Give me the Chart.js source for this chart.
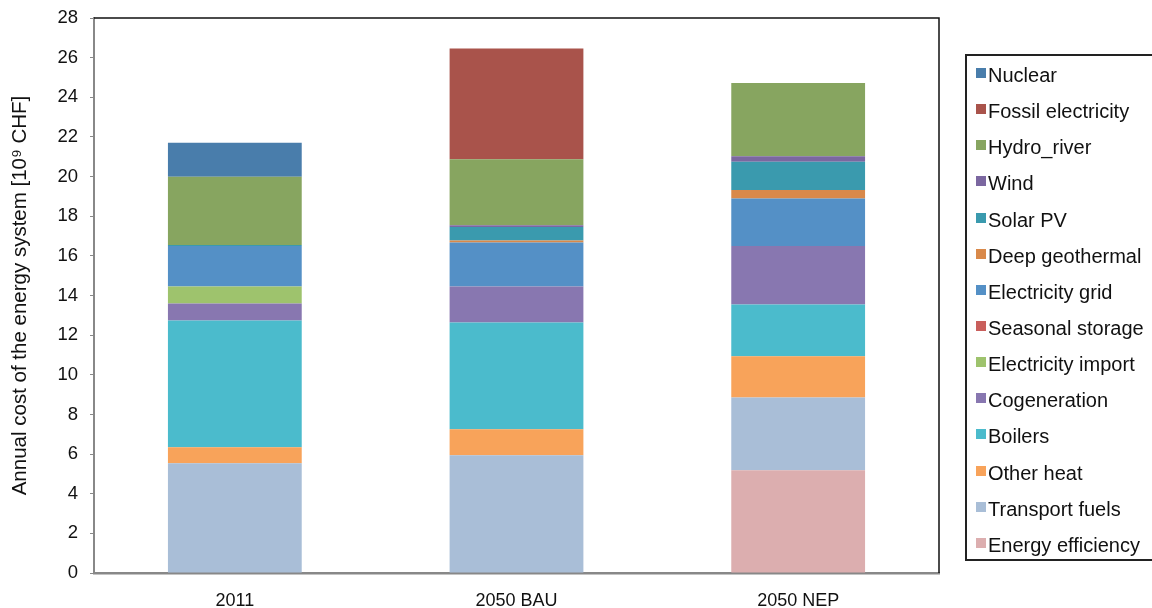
<!DOCTYPE html>
<html>
<head>
  <title>Annual cost of the energy system</title>
  <style>
    html, body {
      margin: 0;
      padding: 0;
      background: #fff;
      font-family: "Liberation Sans", Arial, Helvetica, sans-serif;
    }
    #wrap {
      position: relative;
      width: 1152px;
      height: 608px;
      overflow: hidden;
    }
    #legend {
      position: absolute;
      left: 965px;
      top: 54px;
      width: 210px;
      height: 507px;
      border: 2px solid #222;
      box-sizing: border-box;
      padding-top: 1px;
    }
    .item {
      height: 36.15px;
      line-height: 36.15px;
      font-size: 20px;
      color: #111;
      white-space: nowrap;
      padding-left: 9px;
    }
    .item span.box {
      display: inline-block;
      width: 10px;
      height: 10px;
      margin-right: 2px;
      position: relative;
      top: -4px;
    }
  </style>
</head>
<body>
  <div id="wrap">
    <canvas id="costChart" width="1152" height="608"></canvas>
    <div id="legend"></div>
  </div>

  <script src="https://cdn.jsdelivr.net/npm/chart.js"></script>
  <script>
    // scenarios on the x axis
    const scenarios = ['2011', '2050 BAU', '2050 NEP'];

    // cost per technology, 10^9 CHF, stacked bottom to top
    const energyEfficiency = [0, 0, 5.19];
    const transportFuels = [5.54, 5.94, 3.67];
    const otherHeat = [0.80, 1.31, 2.07];
    const boilers = [6.40, 5.39, 2.62];
    const cogeneration = [0.86, 1.81, 2.95];
    const electricityImport = [0.85, 0, 0];
    const seasonalStorage = [0, 0, 0];
    const electricityGrid = [2.05, 2.22, 2.40];
    const deepGeothermal = [0, 0.10, 0.42];
    const solarPV = [0.05, 0.68, 1.43];
    const wind = [0, 0.09, 0.27];
    const hydroRiver = [3.44, 3.33, 3.70];
    const fossilElectricity = [0, 5.59, 0];
    const nuclear = [1.72, 0, 0];

    const yTicks = [0, 2, 4, 6, 8, 10, 12, 14, 16, 18, 20, 22, 24, 26, 28];

    const series = [
      { label: 'Energy efficiency', data: energyEfficiency, color: '#dcaeaf' },
      { label: 'Transport fuels', data: transportFuels, color: '#a9bed7' },
      { label: 'Other heat', data: otherHeat, color: '#f8a35a' },
      { label: 'Boilers', data: boilers, color: '#4bbbcc' },
      { label: 'Cogeneration', data: cogeneration, color: '#8877b0' },
      { label: 'Electricity import', data: electricityImport, color: '#9ec36d' },
      { label: 'Seasonal storage', data: seasonalStorage, color: '#c95f5c' },
      { label: 'Electricity grid', data: electricityGrid, color: '#5490c6' },
      { label: 'Deep geothermal', data: deepGeothermal, color: '#d9894a' },
      { label: 'Solar PV', data: solarPV, color: '#3a9aae' },
      { label: 'Wind', data: wind, color: '#7b67a0' },
      { label: 'Hydro_river', data: hydroRiver, color: '#87a560' },
      { label: 'Fossil electricity', data: fossilElectricity, color: '#a9534b' },
      { label: 'Nuclear', data: nuclear, color: '#497dab' }
    ];

    const fontFamily = '"Liberation Sans", Arial, Helvetica, sans-serif';

    // black top and right edge of the plot box
    const frame = {
      id: 'frame',
      afterDraw(chart) {
        const a = chart.chartArea;
        const ctx = chart.ctx;
        ctx.save();
        ctx.strokeStyle = '#111';
        ctx.lineWidth = 1.5;
        ctx.beginPath();
        ctx.moveTo(a.left, a.top);
        ctx.lineTo(a.right, a.top);
        ctx.lineTo(a.right, a.bottom);
        ctx.stroke();
        ctx.restore();
      }
    };

    const ctx = document.getElementById('costChart').getContext('2d');
    new Chart(ctx, {
      type: 'bar',
      data: {
        labels: scenarios,
        datasets: series.map(s => ({
          label: s.label,
          data: s.data.map(v => (v === 0 ? null : v)),
          backgroundColor: s.color,
          borderWidth: 0,
          categoryPercentage: 1,
          barPercentage: 0.475
        }))
      },
      options: {
        responsive: false,
        animation: false,
        layout: { padding: { left: 0, right: 213, top: 18, bottom: 0 } },
        plugins: {
          legend: { display: false },
          tooltip: { enabled: false }
        },
        scales: {
          x: {
            stacked: true,
            afterFit: s => { s.height = 35; },
            grid: { display: false },
            border: { color: '#888', width: 2.5 },
            ticks: {
              color: '#111',
              padding: 9,
              font: { family: fontFamily, size: 18 }
            }
          },
          y: {
            stacked: true,
            min: 0,
            max: 28,
            // fixed axis width, and let the top label hang into the padding
            afterFit: s => {
              s.width = 94;
              s.paddingTop = 0;
              s.paddingBottom = 0;
            },
            afterBuildTicks: s => { s.ticks = yTicks.map(v => ({ value: v })); },
            grid: {
              drawOnChartArea: false,
              drawTicks: true,
              tickLength: 4,
              color: '#888'
            },
            border: { color: '#888', width: 2 },
            ticks: {
              color: '#111',
              padding: 12,
              font: { family: fontFamily, size: 18.5 }
            },
            title: {
              display: true,
              text: 'Annual cost of the energy system [10⁹ CHF]',
              color: '#111',
              padding: { top: 8, bottom: 0 },
              font: { family: fontFamily, size: 20.5 }
            }
          }
        }
      },
      plugins: [frame]
    });

    // legend box, top entry is the top of the stack
    const legend = document.getElementById('legend');
    series.slice().reverse().forEach(s => {
      const row = document.createElement('div');
      row.className = 'item';
      const box = document.createElement('span');
      box.className = 'box';
      box.style.background = s.color;
      row.appendChild(box);
      row.appendChild(document.createTextNode(s.label));
      legend.appendChild(row);
    });
  </script>
</body>
</html>
